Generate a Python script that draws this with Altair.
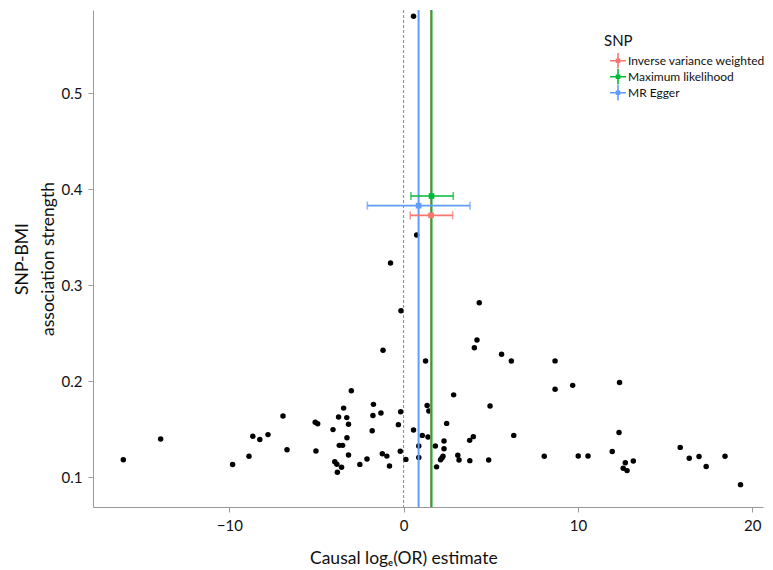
import altair as alt
import pandas as pd

# SNP-specific causal estimates (x) and SNP-BMI association strengths (y)
snp_x = [-16.08, -13.94, -9.81, -8.87, -8.65, -8.25, -7.78, -6.92, -6.69, -5.07,
         -4.93, -5.03, -4.05, -3.73, -3.69, -3.50, -3.95, -3.83, -3.56, -3.80,
         -3.44, -3.26, -3.16, -3.00, -3.25, -3.16, -2.51, -2.10, -1.73, -1.76,
         -1.30, -1.80, -1.22, -0.96, -0.81, -0.17, -0.30, -0.19, 0.13, -1.18,
         0.57, 0.87, 0.87, 1.07, 1.40, 1.82, 1.35, 1.45, 1.26, 2.47,
         2.32, 2.32, 2.26, 2.20, 2.12, 1.89, 2.87, 3.11, 3.18, 3.79,
         4.00, 3.80, 4.96, 4.88, 6.32, 8.07, 4.06, 4.21, 5.62, 6.18,
         8.69, 8.69, 9.70, 10.02, 10.58, 12.39, 12.36, 11.97, 12.72, 13.18,
         12.60, 12.82, 15.87, 16.39, 16.95, 17.36, 18.44, 19.33, 0.57, 0.75,
         -0.75, -0.15, 4.34]
snp_y = [0.1179, 0.1396, 0.1130, 0.1216, 0.1424, 0.1390, 0.1442, 0.1635, 0.1285, 0.1570,
         0.1556, 0.1271, 0.1494, 0.1625, 0.1330, 0.1330, 0.1160, 0.1134, 0.1103, 0.1049,
         0.1718, 0.1619, 0.1551, 0.1900, 0.1410, 0.1229, 0.1132, 0.1188, 0.1757, 0.1641,
         0.1667, 0.1483, 0.1242, 0.1218, 0.1115, 0.1681, 0.1546, 0.1268, 0.1184, 0.2320,
         0.1490, 0.1323, 0.1203, 0.1434, 0.1417, 0.1323, 0.1745, 0.1688, 0.2208, 0.1559,
         0.1375, 0.1294, 0.1216, 0.1198, 0.1181, 0.1106, 0.1856, 0.1226, 0.1177, 0.1382,
         0.1421, 0.1171, 0.1740, 0.1177, 0.1434, 0.1216, 0.2346, 0.2427, 0.2278, 0.2208,
         0.2210, 0.1914, 0.1955, 0.1219, 0.1219, 0.1986, 0.1463, 0.1266, 0.1150, 0.1167,
         0.1091, 0.1067, 0.1309, 0.1195, 0.1213, 0.1111, 0.1216, 0.0921, 0.5799, 0.3521,
         0.3229, 0.2733, 0.2815]

# Summary estimates
methods = ["Inverse variance weighted", "Maximum likelihood", "MR Egger"]
est = [1.58, 1.60, 0.86]
ci_lo = [0.38, 0.42, -2.08]
ci_hi = [2.81, 2.85, 3.81]
est_y = [0.3726, 0.3927, 0.3827]
colors = ["#F8766D", "#00BA38", "#619CFF"]

pts = pd.DataFrame({"x": snp_x, "y": snp_y})
ests = pd.DataFrame({"method": methods, "est": est, "lo": ci_lo, "hi": ci_hi, "y": est_y})
zero = pd.DataFrame({"x": [0]})

FONT = "Lato"
xs = alt.Scale(domain=[-17.82, 20.62], nice=False, zero=False)
ys = alt.Scale(domain=[0.0688, 0.5865], nice=False, zero=False)
cs = alt.Scale(domain=methods, range=colors)

x_axis = alt.Axis(values=[-10, 0, 10, 20], title="Causal logₑ(OR) estimate",
                  titleX=310.3, labelPadding=6, titlePadding=16)
y_axis = alt.Axis(values=[0.1, 0.2, 0.3, 0.4, 0.5], format=".1f",
                  title=["SNP-BMI", "association strength"], labelPadding=6,
                  titlePadding=4, titleAlign="center", titleLineHeight=26)

SYM = "M-1.6,0H1.6M0,-1.6V1.6M-0.3,-0.3H0.3V0.3H-0.3Z"

points = alt.Chart(pts).mark_circle(size=30, color="black", opacity=1).encode(
    x=alt.X("x:Q", scale=xs, axis=x_axis),
    y=alt.Y("y:Q", scale=ys, axis=y_axis),
)

zline = alt.Chart(zero).mark_rule(color="#555555", strokeDash=[3, 2], strokeWidth=0.7).encode(
    x=alt.X("x:Q", scale=xs)
)

vlines = alt.Chart(ests).mark_rule(strokeWidth=2).encode(
    x=alt.X("est:Q", scale=xs),
    color=alt.Color("method:N", scale=cs, legend=alt.Legend(
        title="SNP", orient="none", legendX=511, legendY=24,
        symbolType=SYM, symbolSize=100, symbolStrokeWidth=1.6, symbolOffset=8,
        clipHeight=15.5,
        labelFont=FONT, labelFontSize=12, labelColor="#111111", labelLimit=400,
        titleFont=FONT, titleFontSize=15, titleFontWeight="normal", titleColor="#111111",
        rowPadding=0, labelOffset=4, titlePadding=4)),
)

bars = alt.Chart(ests).mark_rule(strokeWidth=1.6).encode(
    x=alt.X("lo:Q", scale=xs), x2="hi:Q",
    y=alt.Y("y:Q", scale=ys),
    color=alt.Color("method:N", scale=cs, legend=None),
)
cap_lo = alt.Chart(ests).mark_tick(orient="vertical", size=8, thickness=1.6).encode(
    x=alt.X("lo:Q", scale=xs), y=alt.Y("y:Q", scale=ys),
    color=alt.Color("method:N", scale=cs, legend=None),
)
cap_hi = alt.Chart(ests).mark_tick(orient="vertical", size=8, thickness=1.6).encode(
    x=alt.X("hi:Q", scale=xs), y=alt.Y("y:Q", scale=ys),
    color=alt.Color("method:N", scale=cs, legend=None),
)
epts = alt.Chart(ests).mark_square(size=32, opacity=1).encode(
    x=alt.X("est:Q", scale=xs), y=alt.Y("y:Q", scale=ys),
    color=alt.Color("method:N", scale=cs, legend=None),
)

chart = alt.layer(points, zline, vlines, bars, cap_lo, cap_hi, epts).properties(
    width=670, height=497,
    autosize=alt.AutoSizeParams(type="none"),
    padding={"left": 85, "top": 2, "right": 2, "bottom": 63},
).configure_view(stroke=None).configure_axis(
    grid=False, domainColor="#9a9a9a", tickColor="#9a9a9a", tickSize=5,
    labelFont=FONT, labelFontSize=15, labelColor="#111111",
    titleFont=FONT, titleFontSize=17.5, titleFontWeight="normal", titleColor="#111111",
)

chart.save("out.html", embed_options={"renderer": "svg", "actions": False})
